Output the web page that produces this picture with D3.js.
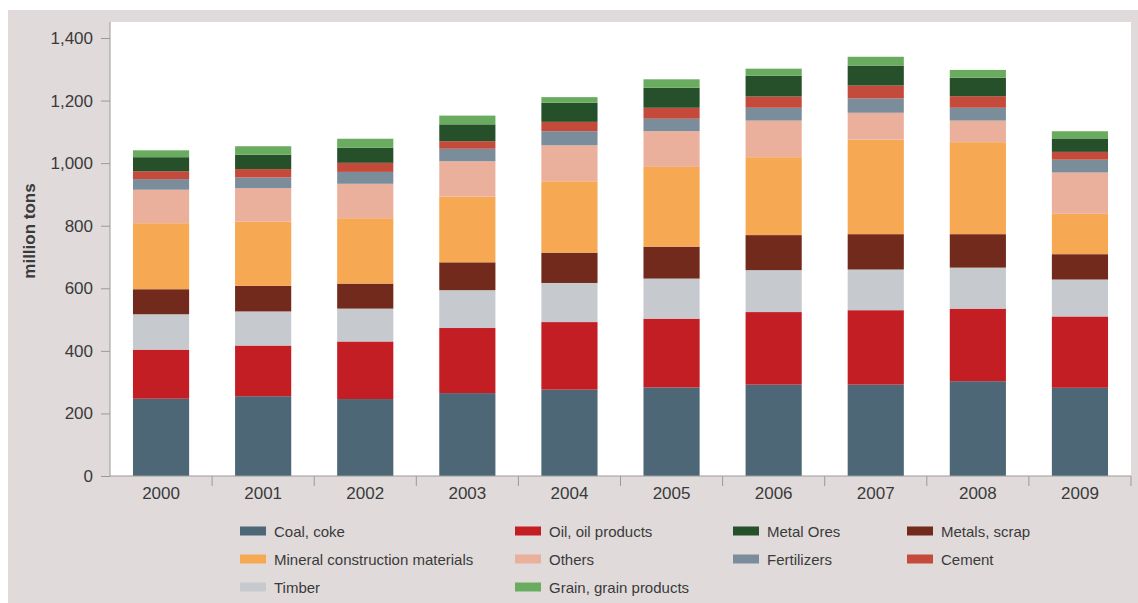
<!DOCTYPE html>
<html>
<head>
<meta charset="utf-8">
<script src="https://cdn.jsdelivr.net/npm/d3@7"></script>
<style>
  body { margin: 0; background: #fff; }
  svg text { font-family: "Liberation Sans", Arial, sans-serif; fill: #3a3a3a; }
</style>
</head>
<body>
<div id="root"></div>
<script>
const width = 1138;
const height = 603;

// data (million tons)
const years = ["2000", "2001", "2002", "2003", "2004", "2005", "2006", "2007", "2008", "2009"];
const categories = ["Coal, coke", "Oil, oil products", "Timber", "Metals, scrap",
  "Mineral construction materials", "Others", "Fertilizers", "Cement", "Metal Ores", "Grain, grain products"];
const coal       = [247, 255, 246, 265, 276, 283, 292, 292, 303, 282];
const oil        = [157, 162, 184, 208, 216, 220, 232, 238, 232, 228];
const timber     = [113, 109, 105, 121, 125, 128, 134, 130, 131, 118];
const metals     = [80, 82, 80, 89, 97, 102, 112, 113, 107, 81];
const mineral    = [211, 205, 209, 210, 228, 255, 249, 302, 294, 129];
const others     = [107, 107, 110, 113, 115, 114, 117, 86, 69, 132];
const fertilizer = [34, 34, 38, 40, 45, 40, 41, 46, 41, 41];
const cement     = [25, 27, 29, 24, 30, 35, 36, 41, 37, 25];
const ores       = [45, 46, 48, 54, 61, 64, 66, 64, 59, 43];
const grain      = [22, 27, 29, 28, 18, 27, 23, 28, 25, 23];
const yTicks = [0, 200, 400, 600, 800, 1000, 1200, 1400];

const colors = ["#4e6777", "#c41e25", "#c6c9ce", "#722a1c", "#f6a852", "#ebb09c", "#7b8d9a", "#c44b3b", "#25502a", "#6aac5f"];
// legend is laid out in rows of four, in this order
const legendOrder = ["Coal, coke", "Oil, oil products", "Metal Ores", "Metals, scrap",
  "Mineral construction materials", "Others", "Fertilizers", "Cement",
  "Timber", "Grain, grain products"];
const legendX = [240, 515, 733, 907];

const series = [coal, oil, timber, metals, mineral, others, fertilizer, cement, ores, grain];
const table = years.map((y, i) => {
  const row = { year: y };
  categories.forEach((c, k) => { row[c] = series[k][i]; });
  return row;
});

const margin = { left: 110, right: 7, top: 22, bottom: 127 };

const svg = d3.select("#root").append("svg")
  .attr("width", width)
  .attr("height", height);

// grey panel and white plot box
svg.append("rect").attr("x", 8).attr("y", 10).attr("width", width - 8).attr("height", height - 10).attr("fill", "#e0dbda");
svg.append("rect").attr("x", margin.left).attr("y", margin.top)
  .attr("width", width - margin.left - margin.right)
  .attr("height", height - margin.bottom - margin.top)
  .attr("fill", "#ffffff");

const x = d3.scaleBand().domain(years)
  .range([margin.left, width - margin.right])
  .paddingInner(0.45).paddingOuter(0.225);
const y = d3.scaleLinear().domain([0, 1400]).range([height - margin.bottom, 38]);
const color = d3.scaleOrdinal().domain(categories).range(colors);

const stacked = d3.stack().keys(categories)(table);

svg.append("g")
  .selectAll("g")
  .data(stacked).enter()
  .append("g")
    .attr("fill", d => color(d.key))
  .selectAll("rect")
  .data(d => d).enter()
  .append("rect")
    .attr("x", d => x(d.data.year))
    .attr("width", x.bandwidth())
    .attr("y", d => y(d[1]))
    .attr("height", d => y(d[0]) - y(d[1]));

// y axis
const yAxis = svg.append("g")
  .attr("transform", `translate(${margin.left},0)`)
  .call(d3.axisLeft(y).tickValues(yTicks).tickFormat(d3.format(",")).tickSize(9).tickPadding(8));
yAxis.select(".domain").attr("stroke", "#9a9a9a").attr("d", `M0,${margin.top}V${height - margin.bottom}`);
yAxis.selectAll(".tick line").attr("stroke", "#9a9a9a");
yAxis.selectAll("text").style("font-size", "17px").attr("fill", "#3a3a3a");

// x axis: ticks sit between categories
const xAxis = svg.append("g")
  .attr("transform", `translate(0,${height - margin.bottom})`);
xAxis.append("line")
  .attr("x1", margin.left).attr("x2", width - margin.right)
  .attr("stroke", "#9a9a9a");
xAxis.selectAll(".sep")
  .data(years).enter()
  .append("line")
    .attr("class", "sep")
    .attr("x1", d => x(d) + x.bandwidth() + x.step() * 0.225)
    .attr("x2", d => x(d) + x.bandwidth() + x.step() * 0.225)
    .attr("y1", 0).attr("y2", 10)
    .attr("stroke", "#9a9a9a");
xAxis.selectAll(".lbl")
  .data(years).enter()
  .append("text")
    .attr("x", d => x(d) + x.bandwidth() / 2)
    .attr("y", 23)
    .attr("text-anchor", "middle")
    .style("font-size", "17px")
    .text(d => d);

svg.append("text")
  .attr("transform", `translate(35,231) rotate(-90)`)
  .attr("text-anchor", "middle")
  .style("font-size", "17px")
  .style("font-weight", "bold")
  .text("million tons");

// legend
const legend = svg.append("g")
  .selectAll("g")
  .data(legendOrder).enter()
  .append("g")
    .attr("transform", (d, i) => `translate(${legendX[i % 4]},${531 + Math.floor(i / 4) * 28})`);
legend.append("rect")
  .attr("y", -4.5).attr("width", 26).attr("height", 9)
  .attr("fill", d => color(d));
legend.append("text")
  .attr("x", 34).attr("y", 5.5)
  .style("font-size", "15px")
  .text(d => d);
</script>
</body>
</html>
